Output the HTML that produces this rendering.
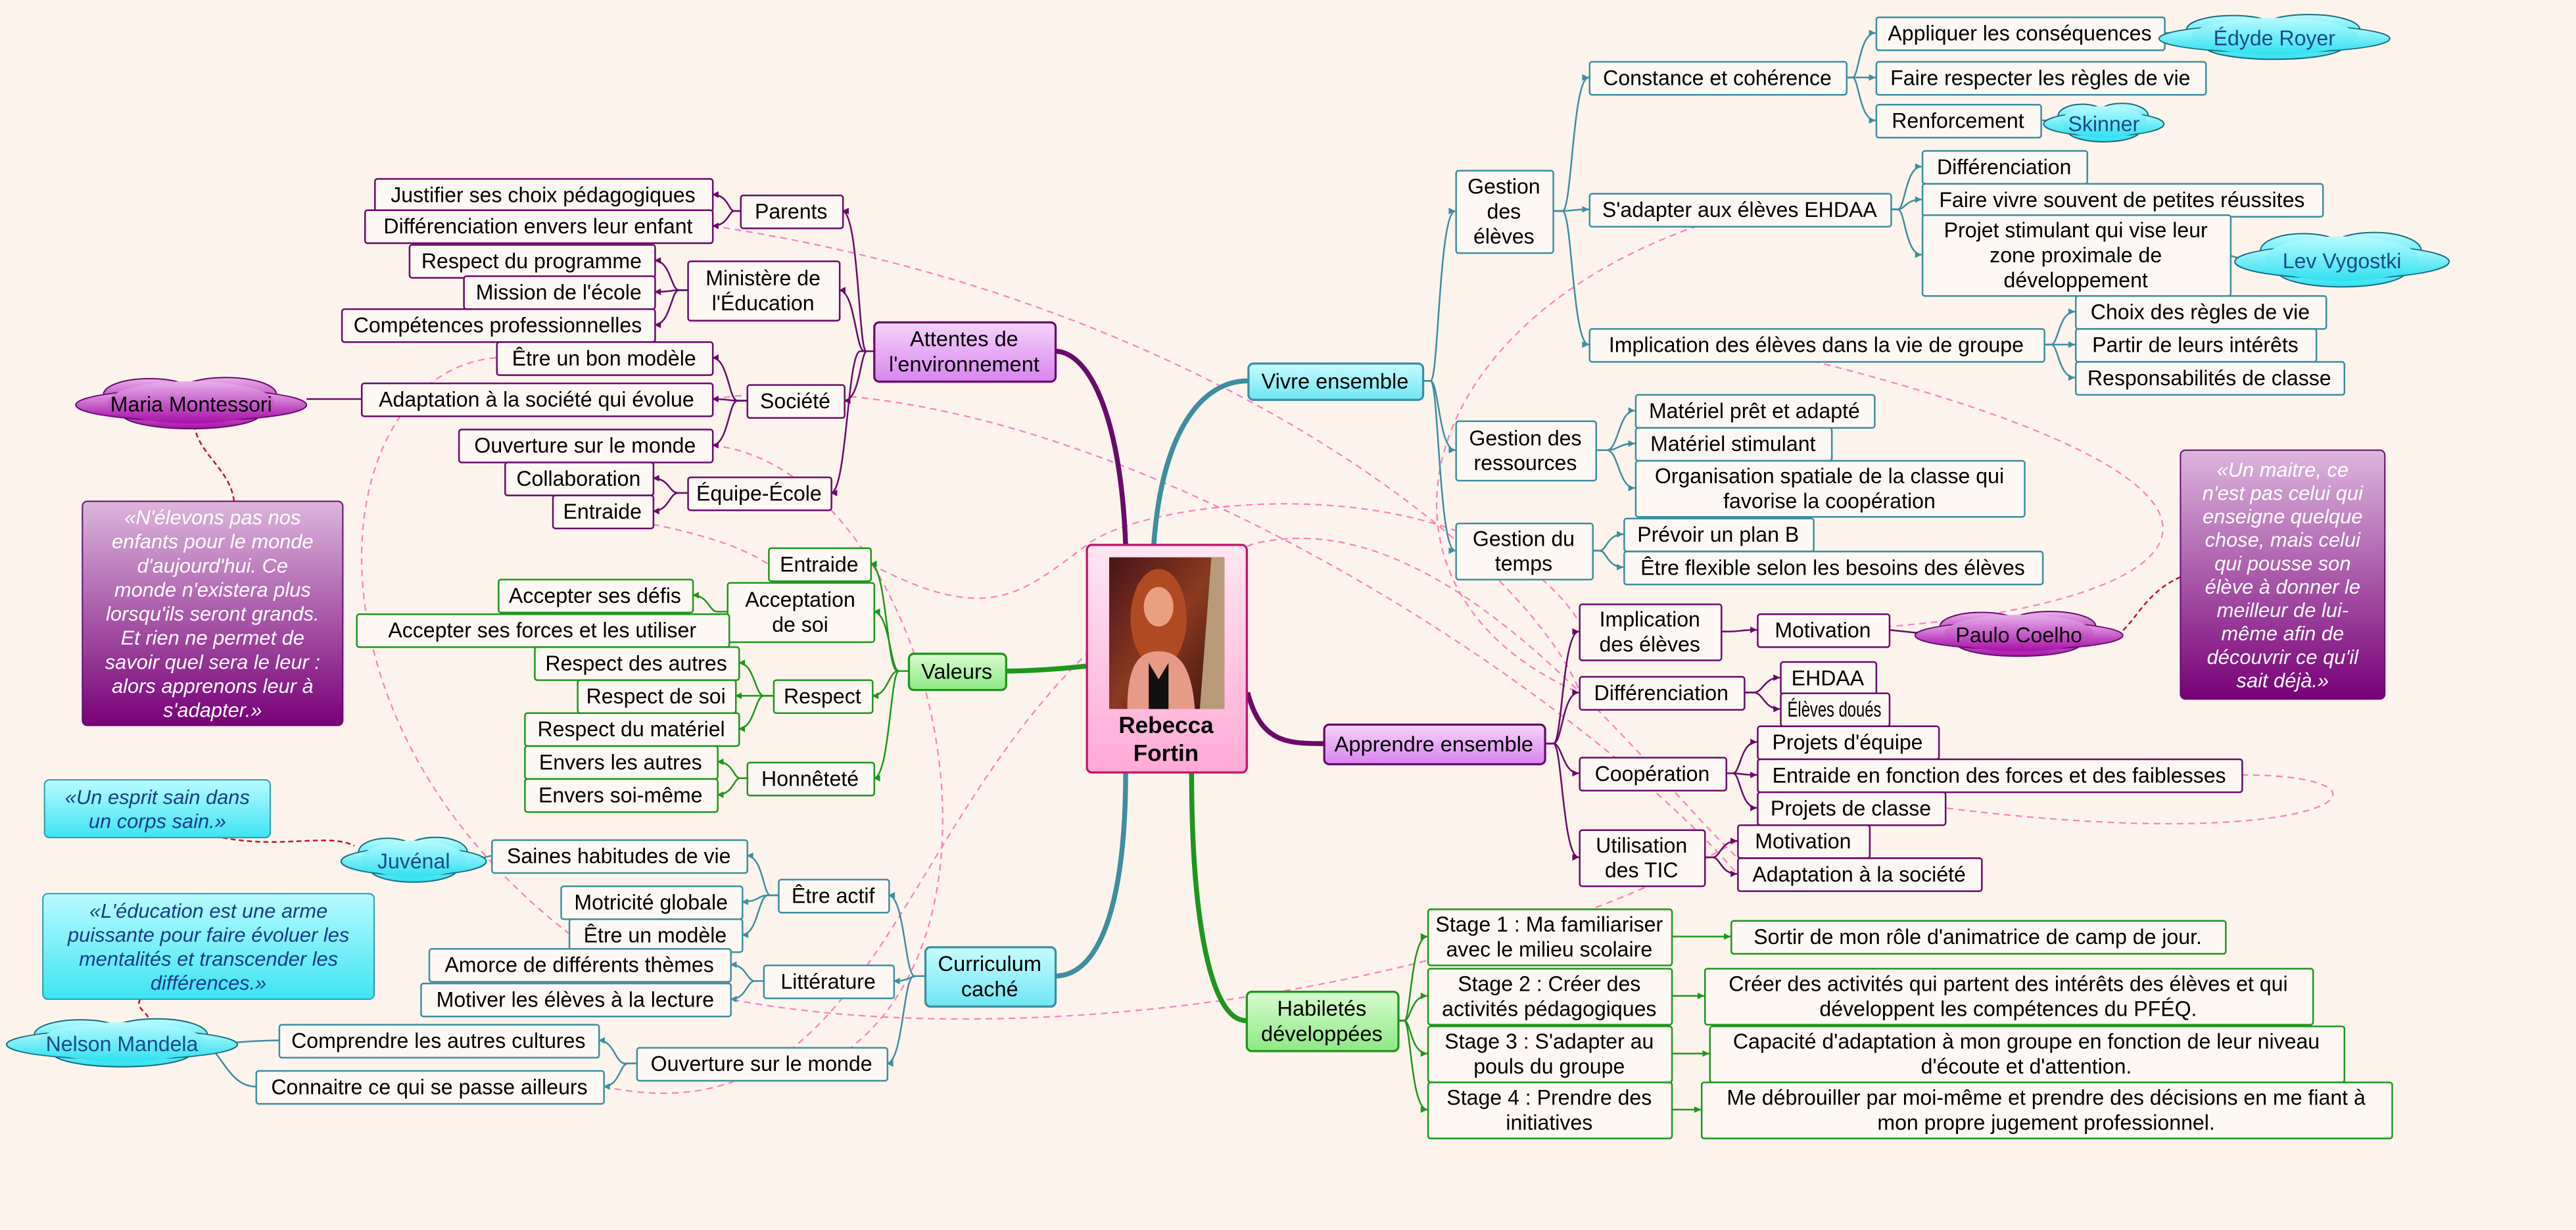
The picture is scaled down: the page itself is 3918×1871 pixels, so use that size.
<!DOCTYPE html>
<html><head><meta charset="utf-8">
<style>
html,body{margin:0;padding:0;background:#fcf4ec;}
svg{display:block;}
</style></head>
<body>
<svg id="s" width="3918" height="1871" viewBox="0 0 1563 746" preserveAspectRatio="none" xmlns="http://www.w3.org/2000/svg">
<defs>
<linearGradient id="gCyan" x1="0" y1="0" x2="0" y2="1"><stop offset="0" stop-color="#c8fbff"/><stop offset="1" stop-color="#6ee6f2"/></linearGradient>
<linearGradient id="gPur" x1="0" y1="0" x2="0" y2="1"><stop offset="0" stop-color="#f4d4fb"/><stop offset="1" stop-color="#d884ee"/></linearGradient>
<linearGradient id="gGrn" x1="0" y1="0" x2="0" y2="1"><stop offset="0" stop-color="#d8fcd0"/><stop offset="1" stop-color="#8ee884"/></linearGradient>
<linearGradient id="gCenter" x1="0" y1="0" x2="0" y2="1"><stop offset="0" stop-color="#ffe6f2"/><stop offset="1" stop-color="#ffaad6"/></linearGradient>
<linearGradient id="gQP" x1="0" y1="0" x2="0" y2="1"><stop offset="0" stop-color="#dcb6dc"/><stop offset="1" stop-color="#780078"/></linearGradient>
<linearGradient id="gQC" x1="0" y1="0" x2="0" y2="1"><stop offset="0" stop-color="#b8fbff"/><stop offset="1" stop-color="#3ee4f2"/></linearGradient>
<linearGradient id="gCloudP" x1="0" y1="0" x2="0" y2="1"><stop offset="0" stop-color="#e8b0ec"/><stop offset="1" stop-color="#a810a8"/></linearGradient>
<linearGradient id="gCloudC" x1="0" y1="0" x2="0" y2="1"><stop offset="0" stop-color="#b8fbff"/><stop offset="1" stop-color="#30e0f0"/></linearGradient>
<linearGradient id="gPhoto" x1="0" y1="0" x2="1" y2="1"><stop offset="0" stop-color="#4a1418"/><stop offset="0.5" stop-color="#8a3a20"/><stop offset="1" stop-color="#3a1010"/></linearGradient>
</defs>
<g id="dash" fill="none" stroke="#ff7ec0" stroke-width="0.9" stroke-dasharray="4,3"></g>
<g id="lines" fill="none"></g>
<g id="nodes"></g>
</svg>
<script>
const NS="http://www.w3.org/2000/svg";
function el(tag,attrs,parent,txt){const e=document.createElementNS(NS,tag);for(const k in attrs)e.setAttribute(k,attrs[k]);if(txt!==undefined)e.textContent=txt;(parent||document.getElementById('nodes')).appendChild(e);return e;}
const T="#3d8ea0",P="#6a0a6a",G="#1e961e";
const N={
 vivre:[757,220,106,22,"Vivre ensemble",T,"url(#gCyan)"],
 ge:[883,103,59,50,"Gestion\ndes\nélèves",T],
 cc:[964,37,156,20,"Constance et cohérence",T],
 app:[1138,10,175,20,"Appliquer les conséquences",T],
 frr:[1138,37,200,20,"Faire respecter les règles de vie",T],
 ren:[1138,63,100,20,"Renforcement",T],
 sad:[964,117,183,20,"S'adapter aux élèves EHDAA",T],
 dif1:[1166,91,100,20,"Différenciation",T],
 fvs:[1166,111,243,20,"Faire vivre souvent de petites réussites",T],
 proj:[1166,130,187,49,"Projet stimulant qui vise leur\nzone proximale de\ndéveloppement",T],
 imp:[964,199,276,20,"Implication des élèves dans la vie de groupe",T],
 chx:[1259,179,152,20,"Choix des règles de vie",T],
 pli:[1259,199,146,20,"Partir de leurs intérêts",T],
 rsp:[1259,219,163,20,"Responsabilités de classe",T],
 gr:[883,255,85,36,"Gestion des\nressources",T],
 mpa:[992,239,145,20,"Matériel prêt et adapté",T],
 ms:[992,259,119,20,"Matériel stimulant",T],
 org:[992,279,236,34,"Organisation spatiale de la classe qui\nfavorise la coopération",T],
 gt:[883,317,83,34,"Gestion du\ntemps",T],
 pb:[985,314,115,20,"Prévoir un plan B",T],
 efx:[985,334,254,20,"Être flexible selon les besoins des élèves",T],
 appr:[803,439,134,24,"Apprendre ensemble",P,"url(#gPur)"],
 ide:[958,366,86,34,"Implication\ndes élèves",P],
 mot1:[1066,372,80,20,"Motivation",P],
 dif2:[958,410,100,20,"Différenciation",P],
 ehd:[1080,401,58,20,"EHDAA",P],
 eld:[1080,420,66,20,"Élèves doués",P],
 coop:[958,459,89,20,"Coopération",P],
 pe:[1066,440,110,20,"Projets d'équipe",P],
 ent2:[1066,460,294,20,"Entraide en fonction des forces et des faiblesses",P],
 pc:[1066,480,114,20,"Projets de classe",P],
 tic:[958,503,76,34,"Utilisation\ndes TIC",P],
 mot2:[1054,500,80,20,"Motivation",P],
 ads:[1054,520,148,20,"Adaptation à la société",P],
 hab:[756,601,92,36,"Habiletés\ndéveloppées",G,"url(#gGrn)"],
 s1:[866,551,148,34,"Stage 1 : Ma familiariser\navec le milieu scolaire",G],
 r1:[1050,558,300,20,"Sortir de mon rôle d'animatrice de camp de jour.",G],
 s2:[866,587,148,34,"Stage 2 : Créer des\nactivités pédagogiques",G],
 r2:[1034,587,369,34,"Créer des activités qui partent des intérêts des élèves et qui\ndéveloppent les compétences du PFÉQ.",G],
 s3:[866,622,148,34,"Stage 3 : S'adapter au\npouls du groupe",G],
 r3:[1037,622,385,34,"Capacité d'adaptation à mon groupe en fonction de leur niveau\nd'écoute et d'attention.",G],
 s4:[866,656,148,34,"Stage 4 : Prendre des\ninitiatives",G],
 r4:[1032,656,419,34,"Me débrouiller par moi-même et prendre des décisions en me fiant à\nmon propre jugement professionnel.",G],
 att:[530,195,110,36,"Attentes de\nl'environnement",P,"url(#gPur)"],
 par:[449,118,62,20,"Parents",P],
 jus:[227,108,205,20,"Justifier ses choix pédagogiques",P],
 dee:[221,127,211,20,"Différenciation envers leur enfant",P],
 min:[417,158,92,36,"Ministère de\nl'Éducation",P],
 rpg:[248,148,149,20,"Respect du programme",P],
 mis:[281,167,116,20,"Mission de l'école",P],
 cpp:[207,187,190,20,"Compétences professionnelles",P],
 soc:[453,233,59,20,"Société",P],
 ebm:[301,207,131,20,"Être un bon modèle",P],
 asq:[219,232,213,20,"Adaptation à la société qui évolue",P],
 osm:[278,260,154,20,"Ouverture sur le monde",P],
 eqe:[417,289,87,20,"Équipe-École",P],
 col:[306,280,90,20,"Collaboration",P],
 ent1:[335,300,61,20,"Entraide",P],
 val:[551,396,59,22,"Valeurs",G,"url(#gGrn)"],
 ent3:[466,332,62,20,"Entraide",G],
 acs:[441,353,89,36,"Acceptation\nde soi",G],
 asd:[302,351,118,20,"Accepter ses défis",G],
 asf:[216,372,226,20,"Accepter ses forces et les utiliser",G],
 res:[469,412,60,20,"Respect",G],
 rda:[324,392,124,20,"Respect des autres",G],
 rds:[350,412,96,20,"Respect de soi",G],
 rdm:[318,432,130,20,"Respect du matériel",G],
 hon:[453,462,77,20,"Honnêteté",G],
 ela:[318,452,117,20,"Envers les autres",G],
 esm:[318,472,117,20,"Envers soi-même",G],
 cur:[561,574,79,36,"Curriculum\ncaché",T,"url(#gCyan)"],
 eac:[472,533,67,20,"Être actif",T],
 shv:[298,509,155,20,"Saines habitudes de vie",T],
 mgl:[340,537,110,20,"Motricité globale",T],
 eum:[345,557,105,20,"Être un modèle",T],
 lit:[463,585,79,20,"Littérature",T],
 adt:[260,575,183,20,"Amorce de différents thèmes",T],
 mel:[255,596,188,20,"Motiver les élèves à la lecture",T],
 osm2:[386,635,152,20,"Ouverture sur le monde",T],
 cac:[169,621,194,20,"Comprendre les autres cultures",T],
 cpa:[155,649,211,20,"Connaitre ce qui se passe ailleurs",T]
};
const tree={vivre:["ge","gr","gt"],ge:["cc","sad","imp"],cc:["app","frr","ren"],sad:["dif1","fvs","proj"],imp:["chx","pli","rsp"],gr:["mpa","ms","org"],gt:["pb","efx"],
appr:["ide","dif2","coop","tic"],ide:["mot1"],dif2:["ehd","eld"],coop:["pe","ent2","pc"],tic:["mot2","ads"],
hab:["s1","s2","s3","s4"],s1:["r1"],s2:["r2"],s3:["r3"],s4:["r4"],
att:["par","min","soc","eqe"],par:["jus","dee"],min:["rpg","mis","cpp"],soc:["ebm","asq","osm"],eqe:["col","ent1"],
val:["ent3","acs","res","hon"],acs:["asd","asf"],res:["rda","rds","rdm"],hon:["ela","esm"],
cur:["eac","lit","osm2"],eac:["shv","mgl","eum"],lit:["adt","mel"],osm2:["cac","cpa"]};
const L=document.getElementById('lines'),D=document.getElementById('dash');
function conn(p,c,col,w){
 const right=c[0]>p[0];
 const sx=right?p[0]+p[2]:p[0], sy=p[1]+p[3]/2;
 const ex=right?c[0]:c[0]+c[2], ey=c[1]+c[3]/2;
 const mx=right?ex-10:ex+10;
 const d=`M${sx},${sy} L${(sx+mx)/2},${sy} C${mx},${sy} ${mx},${ey} ${ex},${ey}`;
 el('path',{d:d,stroke:col,'stroke-width':w||1},L);
 const a=right?-1:1;
 el('path',{d:`M${ex},${ey} l${a*4},-2 l0,4z`,fill:col},L);
}
for(const k in tree){for(const c of tree[k])conn(N[k],N[c],N[c][5]);}
[["M683,331 C680,250 660,213 640,213",P],["M700,331 C705,260 730,231 757,231",T],["M757,420 C765,450 780,451 803,451",P],
 ["M659,404 C640,406 625,407 610,407",G],["M683,468 C683,540 670,592 640,592",T],["M723,468 C723,560 735,619 756,619",G]]
.forEach(([d,c])=>el('path',{d:d,stroke:c,'stroke-width':3,fill:'none'},L));
[["M219,242 L186,242",P],["M298,519 L290,521",T],["M169,631 C150,631 140,633 130,633",T],["M155,659 C140,659 135,640 125,633",T],
 ["M1313,20 L1330,20",T],["M1238,73 L1246,73",T],["M1353,155 L1360,157",T],["M1146,382 L1165,384",P]]
.forEach(([d,c])=>el('path',{d:d,stroke:c,'stroke-width':1,fill:'none'},L));
[["M142,304 C140,285 120,275 118,258"],["M135,508 C170,515 200,505 215,513"],["M85,606 C82,612 90,614 90,618"],["M1323,350 C1300,360 1295,380 1283,386"]]
.forEach(([d])=>el('path',{d:d,stroke:'#c8102e','stroke-width':1,fill:'none','stroke-dasharray':'3,2'},L));
["M301,217 C200,225 170,430 345,566","M396,318 C430,325 450,332 466,342","M432,270 C570,285 640,600 480,655",
 "M432,242 C650,210 960,420 1054,530","M1100,219 C1420,300 1330,365 1146,380","M1030,137 C850,200 820,360 958,420",
 "M1054,510 C900,600 620,640 443,606","M432,137 C720,180 920,330 958,418","M366,659 C560,700 540,420 760,330 C880,300 1000,470 1054,520",
 "M1360,470 C1470,470 1420,520 1180,490","M528,342 C600,380 620,360 660,330 C700,300 900,280 960,380"]
.forEach(d=>el('path',{d:d},D));
function textBlock(x,y,w,h,t,opts){
 const lines=t.split("\n"),fs=opts.fs||12.3,lh=opts.lh||fs*1.18;
 const y0=y+h/2-(lines.length-1)*lh/2+fs*0.36;
 lines.forEach((ln,i)=>{
  const a={x:x+w/2,y:y0+i*lh,'text-anchor':'middle','font-family':'"Liberation Sans","DejaVu Sans",sans-serif','font-size':fs,fill:opts.fill||'#000'};
  if(opts.it)a['font-style']='italic';
  if(opts.bold)a['font-weight']='bold';
  const e=el('text',a,null,ln);
  const maxw=w-(opts.pad||10);
  try{const nl=e.getComputedTextLength();if(nl>maxw){e.setAttribute('textLength',maxw);e.setAttribute('lengthAdjust','spacingAndGlyphs');}}catch(err){}
 });
}
for(const k in N){const [x,y,w,h,t,c,f]=N[k];
 el('rect',{x:x+0.5,y:y+0.5,width:w,height:h,rx:f?3:1.5,fill:f||'#fdf8f3',stroke:c,'stroke-width':f?1.3:1});
 textBlock(x,y,w,h,t,{fs:f?13:12.8,pad:9});
}
function cloud(x,y,w,h,t,grad,stroke){
 const g=el('g',{});
 const cx=x+w/2,cy=y+h/2;
 el('ellipse',{cx:cx-w*0.18,cy:y+h*0.35,rx:w*0.2,ry:h*0.3,fill:grad,stroke:stroke,'stroke-width':0.8},g);
 el('ellipse',{cx:cx+w*0.15,cy:y+h*0.35,rx:w*0.22,ry:h*0.32,fill:grad,stroke:stroke,'stroke-width':0.8},g);
 el('ellipse',{cx:cx,cy:y+h*0.72,rx:w*0.3,ry:h*0.28,fill:grad,stroke:stroke,'stroke-width':0.8},g);
 el('ellipse',{cx:cx,cy:cy+h*0.05,rx:w/2,ry:h*0.3,fill:grad,stroke:stroke,'stroke-width':0.8},g);
 el('ellipse',{cx:cx,cy:cy+h*0.05,rx:w/2-1,ry:h*0.29,fill:grad},g);
 el('ellipse',{cx:cx,cy:cy,rx:w*0.36,ry:h*0.4,fill:grad},g);
 textBlock(x,y+1,w,h,t,{fs:12.8,fill:stroke=='#1a6c80'?'#1a4a8a':'#000'});
}
cloud(46,228,140,32,"Maria Montessori","url(#gCloudP)","#6a0a6a");
cloud(1162,370,126,28,"Paulo Coelho","url(#gCloudP)","#6a0a6a");
cloud(1310,8,140,28,"Édyde Royer","url(#gCloudC)","#1a6c80");
cloud(1240,62,73,24,"Skinner","url(#gCloudC)","#1a6c80");
cloud(1356,140,130,34,"Lev Vygostki","url(#gCloudC)","#1a6c80");
cloud(207,507,88,28,"Juvénal","url(#gCloudC)","#1a6c80");
cloud(4,617,140,30,"Nelson Mandela","url(#gCloudC)","#1a6c80");
function quote(x,y,w,h,t,grad,stroke,fill,lh){
 el('rect',{x:x,y:y,width:w,height:h,rx:3,fill:grad,stroke:stroke,'stroke-width':0.8});
 textBlock(x,y,w,h,t,{fs:12.3,lh:lh,it:true,fill:fill,pad:8});
}
quote(50,304,158,136,"«N'élevons pas nos\nenfants pour le monde\nd'aujourd'hui. Ce\nmonde n'existera plus\nlorsqu'ils seront grands.\nEt rien ne permet de\nsavoir quel sera le leur :\nalors apprenons leur à\ns'adapter.»","url(#gQP)","#6a0a6a","#fff",14.6);
quote(1323,273,124,151,"«Un maitre, ce\nn'est pas celui qui\nenseigne quelque\nchose, mais celui\nqui pousse son\nélève à donner le\nmeilleur de lui-\nmême afin de\ndécouvrir ce qu'il\nsait déjà.»","url(#gQP)","#6a0a6a","#fff",14.2);
quote(27,473,137,35,"«Un esprit sain dans\nun corps sain.»","url(#gQC)","#2a9ab0","#1a3a8a",14.5);
quote(26,542,201,64,"«L'éducation est une arme\npuissante pour faire évoluer les\nmentalités et transcender les\ndifférences.»","url(#gQC)","#2a9ab0","#1a3a8a",14.5);
el('rect',{x:659.5,y:330.5,width:97,height:138,rx:3,fill:'url(#gCenter)',stroke:'#c8106a','stroke-width':1.3});
el('rect',{x:673,y:338,width:70,height:92,fill:'url(#gPhoto)'});
el('polygon',{points:'735,338 743,338 743,430 728,430',fill:'#b89a78'});
el('ellipse',{cx:703,cy:375,rx:17,ry:30,fill:'#b04a22'});
el('path',{d:'M684,430 C684,405 690,395 703,395 C716,395 723,405 725,430 Z',fill:'#e89a88'});
el('path',{d:'M697,430 L697,402 L703,412 L709,402 L709,430 Z',fill:'#111'});
el('ellipse',{cx:703,cy:368,rx:9,ry:12,fill:'#e8a080'});
textBlock(659,430,97,36,"Rebecca\nFortin",{fs:14,lh:17,bold:true});
</script>
</body></html>
